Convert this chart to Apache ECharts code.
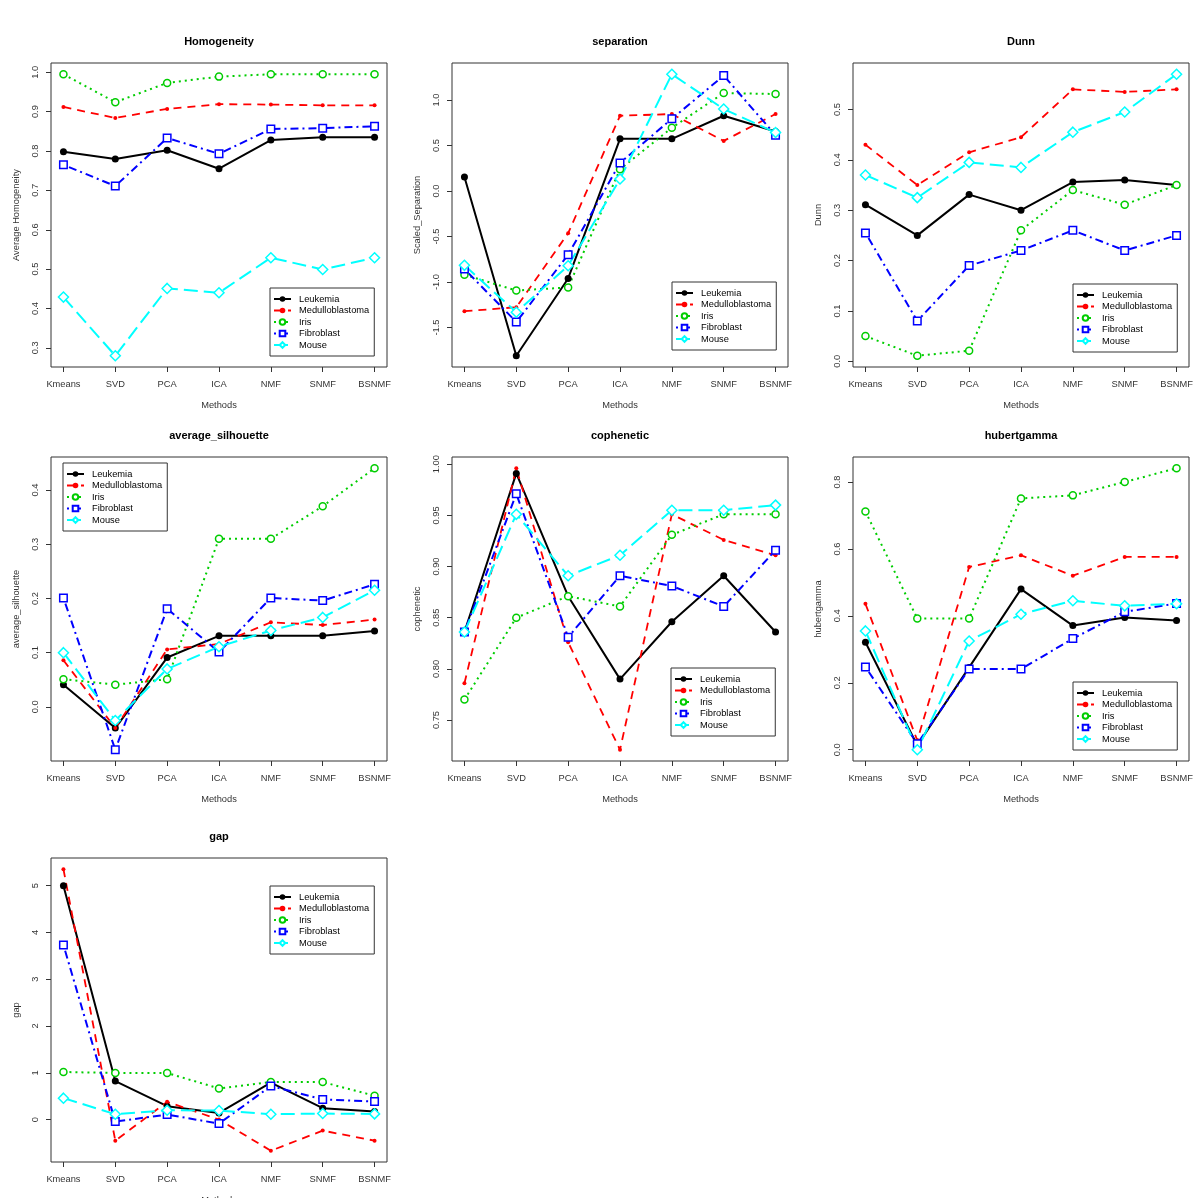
<!DOCTYPE html>
<html><head><meta charset="utf-8">
<script src="https://cdn.jsdelivr.net/npm/echarts@6/dist/echarts.min.js"></script>
<style>html,body{margin:0;padding:0;background:#fff}#c{width:1200px;height:1198px}</style>
</head><body><div id="c"></div>
<script>
// ---------- DATA ----------
const methods = ['Kmeans','SVD','PCA','ICA','NMF','SNMF','BSNMF'];
const datasetNames = ['Leukemia','Medulloblastoma','Iris','Fibroblast','Mouse'];

const homogeneity_Leukemia        = [0.798,0.780,0.802,0.755,0.828,0.835,0.835];
const homogeneity_Medulloblastoma = [0.912,0.884,0.907,0.919,0.918,0.916,0.916];
const homogeneity_Iris            = [0.995,0.924,0.973,0.989,0.995,0.995,0.995];
const homogeneity_Fibroblast      = [0.765,0.711,0.833,0.793,0.856,0.858,0.863];
const homogeneity_Mouse           = [0.429,0.280,0.451,0.440,0.529,0.499,0.529];
const homogeneity_ticks = ['0.3','0.4','0.5','0.6','0.7','0.8','0.9','1.0'];

const separation_Leukemia        = [0.154,-1.809,-0.960,0.574,0.574,0.827,0.654];
const separation_Medulloblastoma = [-1.320,-1.276,-0.463,0.827,0.846,0.551,0.846];
const separation_Iris            = [-0.919,-1.092,-1.059,0.239,0.695,1.077,1.066];
const separation_Fibroblast      = [-0.857,-1.438,-0.699,0.309,0.794,1.268,0.614];
const separation_Mouse           = [-0.816,-1.331,-0.820,0.132,1.283,0.901,0.643];
const separation_ticks = ['-1.5','-1.0','-0.5','0.0','0.5','1.0'];

const dunn_Leukemia        = [0.311,0.250,0.331,0.300,0.356,0.360,0.350];
const dunn_Medulloblastoma = [0.430,0.350,0.415,0.445,0.540,0.535,0.540];
const dunn_Iris            = [0.050,0.011,0.021,0.260,0.340,0.311,0.350];
const dunn_Fibroblast      = [0.255,0.080,0.190,0.220,0.260,0.220,0.250];
const dunn_Mouse           = [0.370,0.325,0.395,0.385,0.455,0.495,0.570];
const dunn_ticks = ['0.0','0.1','0.2','0.3','0.4','0.5'];

const silhouette_Leukemia        = [0.041,-0.039,0.091,0.131,0.131,0.131,0.140];
const silhouette_Medulloblastoma = [0.086,-0.039,0.106,0.116,0.156,0.151,0.161];
const silhouette_Iris            = [0.051,0.041,0.051,0.310,0.310,0.370,0.440];
const silhouette_Fibroblast      = [0.201,-0.079,0.181,0.101,0.201,0.196,0.226];
const silhouette_Mouse           = [0.100,-0.025,0.070,0.111,0.141,0.165,0.215];
const silhouette_ticks = ['-0.1','0.0','0.1','0.2','0.3','0.4'];

const cophenetic_Leukemia        = [0.836,0.991,0.871,0.790,0.846,0.891,0.836];
const cophenetic_Medulloblastoma = [0.786,0.996,0.826,0.721,0.951,0.926,0.911];
const cophenetic_Iris            = [0.770,0.850,0.871,0.861,0.931,0.951,0.951];
const cophenetic_Fibroblast      = [0.836,0.971,0.831,0.891,0.881,0.861,0.916];
const cophenetic_Mouse           = [0.836,0.951,0.891,0.911,0.955,0.955,0.960];
const cophenetic_ticks = ['0.75','0.80','0.85','0.90','0.95','1.00'];

const hubertgamma_Leukemia        = [0.321,0.013,0.246,0.480,0.371,0.395,0.386];
const hubertgamma_Medulloblastoma = [0.436,0.028,0.546,0.581,0.520,0.576,0.576];
const hubertgamma_Iris            = [0.712,0.392,0.392,0.751,0.760,0.800,0.841];
const hubertgamma_Fibroblast      = [0.247,0.018,0.241,0.241,0.332,0.412,0.437];
const hubertgamma_Mouse           = [0.355,0.000,0.325,0.405,0.445,0.430,0.436];
const hubertgamma_ticks = ['0.0','0.2','0.4','0.6','0.8'];

const gap_Leukemia        = [5.000,0.824,0.287,0.143,0.788,0.244,0.172];
const gap_Medulloblastoma = [5.351,-0.451,0.380,0.000,-0.666,-0.236,-0.451];
const gap_Iris            = [1.017,0.996,0.996,0.666,0.802,0.802,0.509];
const gap_Fibroblast      = [3.732,-0.043,0.107,-0.086,0.716,0.430,0.387];
const gap_Mouse           = [0.458,0.115,0.200,0.193,0.115,0.129,0.122];
const gap_ticks = ['0','1','2','3','4','5'];

// ---------- LAYOUT / STYLE ----------
const FONT = '"Liberation Sans", Arial, Helvetica, sans-serif';
const TXT = '#333';
const colLeft = [51, 452, 853];
const rowTop = [63, 457, 858];
const GW = 336, GH = 304;

const panels = [
  {title:'Homogeneity', yName:'Average Homogeneity', series:[homogeneity_Leukemia,homogeneity_Medulloblastoma,homogeneity_Iris,homogeneity_Fibroblast,homogeneity_Mouse], ticks:homogeneity_ticks, r:0, c:0, leg:[270,288]},
  {title:'separation', yName:'Scaled_Separation', series:[separation_Leukemia,separation_Medulloblastoma,separation_Iris,separation_Fibroblast,separation_Mouse], ticks:separation_ticks, r:0, c:1, leg:[672,282]},
  {title:'Dunn', yName:'Dunn', series:[dunn_Leukemia,dunn_Medulloblastoma,dunn_Iris,dunn_Fibroblast,dunn_Mouse], ticks:dunn_ticks, r:0, c:2, leg:[1073,284]},
  {title:'average_silhouette', yName:'average_silhouette', series:[silhouette_Leukemia,silhouette_Medulloblastoma,silhouette_Iris,silhouette_Fibroblast,silhouette_Mouse], ticks:silhouette_ticks, r:1, c:0, leg:[63,463]},
  {title:'cophenetic', yName:'cophenetic', series:[cophenetic_Leukemia,cophenetic_Medulloblastoma,cophenetic_Iris,cophenetic_Fibroblast,cophenetic_Mouse], ticks:cophenetic_ticks, r:1, c:1, leg:[671,668]},
  {title:'hubertgamma', yName:'hubertgamma', series:[hubertgamma_Leukemia,hubertgamma_Medulloblastoma,hubertgamma_Iris,hubertgamma_Fibroblast,hubertgamma_Mouse], ticks:hubertgamma_ticks, r:1, c:2, leg:[1073,682]},
  {title:'gap', yName:'gap', series:[gap_Leukemia,gap_Medulloblastoma,gap_Iris,gap_Fibroblast,gap_Mouse], ticks:gap_ticks, r:2, c:0, leg:[270,886]}
];

// open symbols: white fill with a coloured border (like R's pch 1, 0, 5)
const seriesStyle = [
  {color:'#000000', type:'solid',   width:2,   symbol:'circle',  size:7,   fill:'#000000', bw:0},
  {color:'#FF0000', type:[8,6],     width:1.8, symbol:'circle',  size:4,   fill:'#FF0000', bw:0},
  {color:'#00CD00', type:[2,4],     width:2,   symbol:'circle',  size:7,   fill:'#ffffff', bw:1.5},
  {color:'#0000FF', type:[2,4,8,4], width:2,   symbol:'rect',    size:7.5, fill:'#ffffff', bw:1.5},
  {color:'#00FFFF', type:[14,6],    width:2,   symbol:'diamond', size:10,  fill:'#ffffff', bw:1.5}
];

const grid = [], xAxis = [], yAxis = [], series = [], title = [], legend = [];
const xTicks = methods.map((m, j) => j + 1);

panels.forEach((p, i) => {
  const left = colLeft[p.c], top = rowTop[p.r];
  grid.push({left:left, top:top, width:GW, height:GH, show:true, borderColor:'#333', borderWidth:1,
             backgroundColor:'transparent', containLabel:false, outerBoundsMode:'none'});
  // R-style 4% padding of ranges
  const all = [].concat(...p.series);
  const lo = Math.min(...all), hi = Math.max(...all), pad = (hi - lo) * 0.04;
  const yt = p.ticks.map(Number);
  xAxis.push({
    gridIndex:i, type:'value', min:1 - 0.24, max:methods.length + 0.24, position:'bottom',
    name:'Methods', nameLocation:'middle', nameGap:34,
    nameTextStyle:{fontSize:9.3, color:TXT, fontFamily:FONT},
    axisLine:{show:false, onZero:false}, splitLine:{show:false},
    axisTick:{show:true, length:5, inside:false, lineStyle:{color:'#333', width:1}, customValues:xTicks},
    axisLabel:{show:true, margin:13, fontSize:9.3, color:TXT, fontFamily:FONT, customValues:xTicks,
               formatter:(v) => methods[Math.round(v) - 1] || ''}
  });
  yAxis.push({
    gridIndex:i, type:'value', min:lo - pad, max:hi + pad, position:'left',
    name:p.yName, nameLocation:'middle', nameGap:30, nameRotate:90,
    nameTextStyle:{fontSize:9.3, color:TXT, fontFamily:FONT},
    axisLine:{show:false, onZero:false}, splitLine:{show:false},
    axisTick:{show:true, length:5, inside:false, lineStyle:{color:'#333', width:1}, customValues:yt},
    axisLabel:{show:true, rotate:90, margin:11, fontSize:9.3, color:TXT, fontFamily:FONT, customValues:yt,
               formatter:(v) => { const k = yt.findIndex(t => Math.abs(t - v) < 1e-9); return k >= 0 ? p.ticks[k] : ''; }}
  });
  title.push({text:p.title, left:left + GW / 2, top:top - 27, textAlign:'center', padding:0,
              textStyle:{fontSize:11, fontWeight:'bold', color:'#000', fontFamily:FONT}});
  legend.push({
    data:datasetNames, left:p.leg[0], top:p.leg[1], orient:'vertical',
    padding:[6, 5, 6, 3], itemGap:1.5, itemWidth:17, itemHeight:7,
    borderColor:'#333', borderWidth:1, backgroundColor:'#fff', selectedMode:false,
    textStyle:{fontSize:9.3, color:'#000', fontFamily:FONT, lineHeight:10, padding:[0,0,0,3]}
  });
  p.series.forEach((vals, k) => {
    const s = seriesStyle[k];
    series.push({
      name:datasetNames[k], type:'line', xAxisIndex:i, yAxisIndex:i,
      data:vals.map((v, j) => [j + 1, v]),
      symbol:s.symbol, symbolSize:s.size, showSymbol:true,
      itemStyle:{color:s.fill, borderColor:s.color, borderWidth:s.bw},
      lineStyle:{color:s.color, width:s.width, type:s.type},
      emphasis:{disabled:true}, animation:false, silent:true
    });
  });
});

const chart = echarts.init(document.getElementById('c'), null, {renderer:'canvas'});
chart.setOption({animation:false, backgroundColor:'#fff', title, legend, grid, xAxis, yAxis, series});
</script>
</body></html>
